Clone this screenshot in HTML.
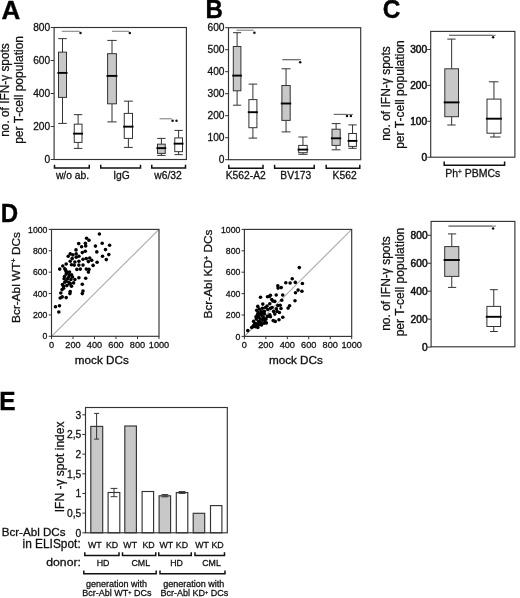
<!DOCTYPE html>
<html lang="en"><head><meta charset="utf-8"><title>Figure</title>
<style>
html,body{margin:0;padding:0;background:#fff;}
svg{display:block;font-family:'Liberation Sans', sans-serif;}
</style></head>
<body>
<svg width="520" height="598" viewBox="0 0 520 598" style="font-family:'Liberation Sans', sans-serif">
<rect x="0" y="0" width="520" height="598" fill="#fff"/>
<text x="1.60" y="18.70" font-size="26" text-anchor="start" font-weight="bold" fill="#000" stroke="#000" stroke-width="0.35">A</text>
<text x="205.40" y="18.00" font-size="26" text-anchor="start" font-weight="bold" fill="#000" stroke="#000" stroke-width="0.35" textLength="17.4" lengthAdjust="spacingAndGlyphs">B</text>
<text x="382.70" y="18.20" font-size="26" text-anchor="start" font-weight="bold" fill="#000" stroke="#000" stroke-width="0.35" textLength="17.6" lengthAdjust="spacingAndGlyphs">C</text>
<text x="0.80" y="221.60" font-size="25.4" text-anchor="start" font-weight="bold" fill="#000" stroke="#000" stroke-width="0.35" textLength="17.4" lengthAdjust="spacingAndGlyphs">D</text>
<text x="-0.70" y="409.70" font-size="26" text-anchor="start" font-weight="bold" fill="#000" stroke="#000" stroke-width="0.35" textLength="16.3" lengthAdjust="spacingAndGlyphs">E</text>
<rect x="54.10" y="27.50" width="132.30" height="132.00" fill="none" stroke="#333" stroke-width="1.15"/>
<line x1="50.70" y1="159.50" x2="54.10" y2="159.50" stroke="#333" stroke-width="1" />
<text x="50.20" y="163.17" font-size="10.2" text-anchor="end" font-weight="normal" fill="#111" stroke="#111" stroke-width="0.28">0</text>
<line x1="50.70" y1="126.50" x2="54.10" y2="126.50" stroke="#333" stroke-width="1" />
<text x="50.20" y="130.17" font-size="10.2" text-anchor="end" font-weight="normal" fill="#111" stroke="#111" stroke-width="0.28">200</text>
<line x1="50.70" y1="93.50" x2="54.10" y2="93.50" stroke="#333" stroke-width="1" />
<text x="50.20" y="97.17" font-size="10.2" text-anchor="end" font-weight="normal" fill="#111" stroke="#111" stroke-width="0.28">400</text>
<line x1="50.70" y1="60.50" x2="54.10" y2="60.50" stroke="#333" stroke-width="1" />
<text x="50.20" y="64.17" font-size="10.2" text-anchor="end" font-weight="normal" fill="#111" stroke="#111" stroke-width="0.28">600</text>
<line x1="50.70" y1="27.50" x2="54.10" y2="27.50" stroke="#333" stroke-width="1" />
<text x="50.20" y="31.17" font-size="10.2" text-anchor="end" font-weight="normal" fill="#111" stroke="#111" stroke-width="0.28">800</text>
<line x1="62.50" y1="38.65" x2="62.50" y2="52.15" stroke="#333" stroke-width="1" />
<line x1="62.50" y1="97.40" x2="62.50" y2="123.40" stroke="#333" stroke-width="1" />
<line x1="58.20" y1="38.65" x2="66.80" y2="38.65" stroke="#333" stroke-width="1" />
<line x1="58.20" y1="123.40" x2="66.80" y2="123.40" stroke="#333" stroke-width="1" />
<rect x="58.50" y="52.15" width="8.00" height="45.25" fill="#c8c8c8" stroke="#333" stroke-width="1"/>
<line x1="57.40" y1="72.90" x2="67.50" y2="72.90" stroke="#000" stroke-width="1.9" />
<line x1="78.12" y1="114.65" x2="78.12" y2="124.15" stroke="#333" stroke-width="1" />
<line x1="78.12" y1="142.40" x2="78.12" y2="148.40" stroke="#333" stroke-width="1" />
<line x1="73.95" y1="114.65" x2="82.30" y2="114.65" stroke="#333" stroke-width="1" />
<line x1="73.95" y1="148.40" x2="82.30" y2="148.40" stroke="#333" stroke-width="1" />
<rect x="74.25" y="124.15" width="7.75" height="18.25" fill="#fff" stroke="#333" stroke-width="1"/>
<line x1="73.15" y1="133.65" x2="83.00" y2="133.65" stroke="#000" stroke-width="1.9" />
<line x1="112.00" y1="40.40" x2="112.00" y2="53.65" stroke="#333" stroke-width="1" />
<line x1="112.00" y1="103.80" x2="112.00" y2="121.90" stroke="#333" stroke-width="1" />
<line x1="107.30" y1="40.40" x2="116.70" y2="40.40" stroke="#333" stroke-width="1" />
<line x1="107.30" y1="121.90" x2="116.70" y2="121.90" stroke="#333" stroke-width="1" />
<rect x="107.60" y="53.65" width="8.80" height="50.15" fill="#c8c8c8" stroke="#333" stroke-width="1"/>
<line x1="106.50" y1="75.90" x2="117.40" y2="75.90" stroke="#000" stroke-width="1.9" />
<line x1="128.38" y1="101.15" x2="128.38" y2="113.40" stroke="#333" stroke-width="1" />
<line x1="128.38" y1="138.40" x2="128.38" y2="147.40" stroke="#333" stroke-width="1" />
<line x1="123.95" y1="101.15" x2="132.80" y2="101.15" stroke="#333" stroke-width="1" />
<line x1="123.95" y1="147.40" x2="132.80" y2="147.40" stroke="#333" stroke-width="1" />
<rect x="124.25" y="113.40" width="8.25" height="25.00" fill="#fff" stroke="#333" stroke-width="1"/>
<line x1="123.15" y1="126.65" x2="133.50" y2="126.65" stroke="#000" stroke-width="1.9" />
<line x1="161.38" y1="138.40" x2="161.38" y2="144.15" stroke="#333" stroke-width="1" />
<line x1="161.38" y1="153.40" x2="161.38" y2="155.40" stroke="#333" stroke-width="1" />
<line x1="157.20" y1="138.40" x2="165.55" y2="138.40" stroke="#333" stroke-width="1" />
<line x1="157.20" y1="155.40" x2="165.55" y2="155.40" stroke="#333" stroke-width="1" />
<rect x="157.50" y="144.15" width="7.75" height="9.25" fill="#c8c8c8" stroke="#333" stroke-width="1"/>
<line x1="156.40" y1="148.15" x2="166.25" y2="148.15" stroke="#000" stroke-width="1.9" />
<line x1="178.62" y1="130.40" x2="178.62" y2="137.90" stroke="#333" stroke-width="1" />
<line x1="178.62" y1="151.65" x2="178.62" y2="154.65" stroke="#333" stroke-width="1" />
<line x1="174.45" y1="130.40" x2="182.80" y2="130.40" stroke="#333" stroke-width="1" />
<line x1="174.45" y1="154.65" x2="182.80" y2="154.65" stroke="#333" stroke-width="1" />
<rect x="174.75" y="137.90" width="7.75" height="13.75" fill="#fff" stroke="#333" stroke-width="1"/>
<line x1="173.65" y1="143.65" x2="183.50" y2="143.65" stroke="#000" stroke-width="1.9" />
<line x1="61.75" y1="31.25" x2="79.70" y2="31.25" stroke="#666" stroke-width="0.9" />
<circle cx="80.50" cy="33.00" r="1.25" fill="#111"/>
<line x1="112.00" y1="31.25" x2="129.00" y2="31.25" stroke="#666" stroke-width="0.9" />
<circle cx="129.80" cy="33.00" r="1.25" fill="#111"/>
<line x1="159.60" y1="118.80" x2="171.80" y2="118.80" stroke="#666" stroke-width="0.9" />
<circle cx="172.60" cy="120.80" r="1.25" fill="#111"/>
<circle cx="176.50" cy="120.80" r="1.25" fill="#111"/>
<path d="M54.50 164.80V168.00H89.25V164.80" fill="none" stroke="#111" stroke-width="1.5"/>
<path d="M100.75 164.80V168.00H140.50V164.80" fill="none" stroke="#111" stroke-width="1.5"/>
<path d="M151.75 164.80V168.00H185.50V164.80" fill="none" stroke="#111" stroke-width="1.5"/>
<text x="72.50" y="178.80" font-size="10.3" text-anchor="middle" font-weight="normal" fill="#111" stroke="#111" stroke-width="0.28">w/o ab.</text>
<text x="121.50" y="178.80" font-size="10.3" text-anchor="middle" font-weight="normal" fill="#111" stroke="#111" stroke-width="0.28">IgG</text>
<text x="168.00" y="178.80" font-size="10.3" text-anchor="middle" font-weight="normal" fill="#111" stroke="#111" stroke-width="0.28">w6/32</text>
<text x="9.00" y="90.00" font-size="11.85" text-anchor="middle" font-weight="normal" fill="#111" transform="rotate(-90 9.00 90.00)" stroke="#111" stroke-width="0.28">no. of IFN-γ spots</text>
<text x="23.20" y="89.90" font-size="12.0" text-anchor="middle" font-weight="normal" fill="#111" transform="rotate(-90 23.20 89.90)" stroke="#111" stroke-width="0.28">per T-cell population</text>
<rect x="228.50" y="27.70" width="132.20" height="132.00" fill="none" stroke="#333" stroke-width="1.15"/>
<line x1="225.10" y1="159.70" x2="228.50" y2="159.70" stroke="#333" stroke-width="1" />
<text x="224.50" y="163.37" font-size="10.2" text-anchor="end" font-weight="normal" fill="#111" stroke="#111" stroke-width="0.28">0</text>
<line x1="225.10" y1="137.70" x2="228.50" y2="137.70" stroke="#333" stroke-width="1" />
<text x="224.50" y="141.37" font-size="10.2" text-anchor="end" font-weight="normal" fill="#111" stroke="#111" stroke-width="0.28">100</text>
<line x1="225.10" y1="115.70" x2="228.50" y2="115.70" stroke="#333" stroke-width="1" />
<text x="224.50" y="119.37" font-size="10.2" text-anchor="end" font-weight="normal" fill="#111" stroke="#111" stroke-width="0.28">200</text>
<line x1="225.10" y1="93.70" x2="228.50" y2="93.70" stroke="#333" stroke-width="1" />
<text x="224.50" y="97.37" font-size="10.2" text-anchor="end" font-weight="normal" fill="#111" stroke="#111" stroke-width="0.28">300</text>
<line x1="225.10" y1="71.70" x2="228.50" y2="71.70" stroke="#333" stroke-width="1" />
<text x="224.50" y="75.37" font-size="10.2" text-anchor="end" font-weight="normal" fill="#111" stroke="#111" stroke-width="0.28">400</text>
<line x1="225.10" y1="49.70" x2="228.50" y2="49.70" stroke="#333" stroke-width="1" />
<text x="224.50" y="53.37" font-size="10.2" text-anchor="end" font-weight="normal" fill="#111" stroke="#111" stroke-width="0.28">500</text>
<line x1="225.10" y1="27.70" x2="228.50" y2="27.70" stroke="#333" stroke-width="1" />
<text x="224.50" y="31.37" font-size="10.2" text-anchor="end" font-weight="normal" fill="#111" stroke="#111" stroke-width="0.28">600</text>
<line x1="237.10" y1="32.70" x2="237.10" y2="46.50" stroke="#333" stroke-width="1" />
<line x1="237.10" y1="90.80" x2="237.10" y2="105.20" stroke="#333" stroke-width="1" />
<line x1="233.00" y1="32.70" x2="241.20" y2="32.70" stroke="#333" stroke-width="1" />
<line x1="233.00" y1="105.20" x2="241.20" y2="105.20" stroke="#333" stroke-width="1" />
<rect x="233.30" y="46.50" width="7.60" height="44.30" fill="#c8c8c8" stroke="#333" stroke-width="1"/>
<line x1="232.20" y1="75.60" x2="241.90" y2="75.60" stroke="#000" stroke-width="1.9" />
<line x1="252.90" y1="84.10" x2="252.90" y2="99.60" stroke="#333" stroke-width="1" />
<line x1="252.90" y1="127.70" x2="252.90" y2="138.10" stroke="#333" stroke-width="1" />
<line x1="248.60" y1="84.10" x2="257.20" y2="84.10" stroke="#333" stroke-width="1" />
<line x1="248.60" y1="138.10" x2="257.20" y2="138.10" stroke="#333" stroke-width="1" />
<rect x="248.90" y="99.60" width="8.00" height="28.10" fill="#fff" stroke="#333" stroke-width="1"/>
<line x1="247.80" y1="112.20" x2="257.90" y2="112.20" stroke="#000" stroke-width="1.9" />
<line x1="286.05" y1="68.80" x2="286.05" y2="85.50" stroke="#333" stroke-width="1" />
<line x1="286.05" y1="120.40" x2="286.05" y2="131.90" stroke="#333" stroke-width="1" />
<line x1="281.60" y1="68.80" x2="290.50" y2="68.80" stroke="#333" stroke-width="1" />
<line x1="281.60" y1="131.90" x2="290.50" y2="131.90" stroke="#333" stroke-width="1" />
<rect x="281.90" y="85.50" width="8.30" height="34.90" fill="#c8c8c8" stroke="#333" stroke-width="1"/>
<line x1="280.80" y1="103.50" x2="291.20" y2="103.50" stroke="#000" stroke-width="1.9" />
<line x1="302.95" y1="137.00" x2="302.95" y2="145.40" stroke="#333" stroke-width="1" />
<line x1="302.95" y1="152.70" x2="302.95" y2="154.30" stroke="#333" stroke-width="1" />
<line x1="298.40" y1="137.00" x2="307.50" y2="137.00" stroke="#333" stroke-width="1" />
<line x1="298.40" y1="154.30" x2="307.50" y2="154.30" stroke="#333" stroke-width="1" />
<rect x="298.70" y="145.40" width="8.50" height="7.30" fill="#fff" stroke="#333" stroke-width="1"/>
<line x1="297.60" y1="149.60" x2="308.20" y2="149.60" stroke="#000" stroke-width="1.9" />
<line x1="336.10" y1="123.60" x2="336.10" y2="129.20" stroke="#333" stroke-width="1" />
<line x1="336.10" y1="145.40" x2="336.10" y2="149.80" stroke="#333" stroke-width="1" />
<line x1="331.70" y1="123.60" x2="340.50" y2="123.60" stroke="#333" stroke-width="1" />
<line x1="331.70" y1="149.80" x2="340.50" y2="149.80" stroke="#333" stroke-width="1" />
<rect x="332.00" y="129.20" width="8.20" height="16.20" fill="#c8c8c8" stroke="#333" stroke-width="1"/>
<line x1="330.90" y1="138.30" x2="341.20" y2="138.30" stroke="#000" stroke-width="1.9" />
<line x1="352.55" y1="124.90" x2="352.55" y2="133.50" stroke="#333" stroke-width="1" />
<line x1="352.55" y1="146.40" x2="352.55" y2="148.30" stroke="#333" stroke-width="1" />
<line x1="348.40" y1="124.90" x2="356.70" y2="124.90" stroke="#333" stroke-width="1" />
<line x1="348.40" y1="148.30" x2="356.70" y2="148.30" stroke="#333" stroke-width="1" />
<rect x="348.70" y="133.50" width="7.70" height="12.90" fill="#fff" stroke="#333" stroke-width="1"/>
<line x1="347.60" y1="140.90" x2="357.40" y2="140.90" stroke="#000" stroke-width="1.9" />
<line x1="236.50" y1="30.20" x2="253.60" y2="30.20" stroke="#666" stroke-width="0.9" />
<circle cx="254.40" cy="32.80" r="1.25" fill="#111"/>
<line x1="282.20" y1="59.70" x2="301.00" y2="59.70" stroke="#666" stroke-width="0.9" />
<line x1="282.70" y1="59.70" x2="299.40" y2="59.70" stroke="#666" stroke-width="0.9" />
<circle cx="300.20" cy="62.20" r="1.25" fill="#111"/>
<line x1="333.60" y1="114.40" x2="353.00" y2="114.40" stroke="#666" stroke-width="0.9" />
<line x1="334.00" y1="114.40" x2="346.20" y2="114.40" stroke="#666" stroke-width="0.9" />
<circle cx="347.00" cy="115.90" r="1.25" fill="#111"/>
<circle cx="350.90" cy="115.90" r="1.25" fill="#111"/>
<path d="M228.80 164.80V168.20H263.00V164.80" fill="none" stroke="#111" stroke-width="1.5"/>
<path d="M274.60 164.80V168.20H314.20V164.80" fill="none" stroke="#111" stroke-width="1.5"/>
<path d="M326.20 164.80V168.20H359.80V164.80" fill="none" stroke="#111" stroke-width="1.5"/>
<text x="245.80" y="179.20" font-size="10.3" text-anchor="middle" font-weight="normal" fill="#111" stroke="#111" stroke-width="0.28">K562-A2</text>
<text x="295.80" y="179.20" font-size="10.3" text-anchor="middle" font-weight="normal" fill="#111" stroke="#111" stroke-width="0.28">BV173</text>
<text x="344.60" y="179.20" font-size="10.3" text-anchor="middle" font-weight="normal" fill="#111" stroke="#111" stroke-width="0.28">K562</text>
<rect x="430.70" y="31.40" width="84.20" height="125.80" fill="none" stroke="#333" stroke-width="1.15"/>
<line x1="427.30" y1="157.20" x2="430.70" y2="157.20" stroke="#333" stroke-width="1" />
<text x="427.20" y="160.87" font-size="10.2" text-anchor="end" font-weight="normal" fill="#111" stroke="#111" stroke-width="0.5">0</text>
<line x1="427.30" y1="121.30" x2="430.70" y2="121.30" stroke="#333" stroke-width="1" />
<text x="427.20" y="124.97" font-size="10.2" text-anchor="end" font-weight="normal" fill="#111" stroke="#111" stroke-width="0.5">100</text>
<line x1="427.30" y1="85.40" x2="430.70" y2="85.40" stroke="#333" stroke-width="1" />
<text x="427.20" y="89.07" font-size="10.2" text-anchor="end" font-weight="normal" fill="#111" stroke="#111" stroke-width="0.5">200</text>
<line x1="427.30" y1="49.50" x2="430.70" y2="49.50" stroke="#333" stroke-width="1" />
<text x="427.20" y="53.17" font-size="10.2" text-anchor="end" font-weight="normal" fill="#111" stroke="#111" stroke-width="0.5">300</text>
<line x1="451.65" y1="39.10" x2="451.65" y2="68.80" stroke="#333" stroke-width="1" />
<line x1="451.65" y1="116.70" x2="451.65" y2="125.00" stroke="#333" stroke-width="1" />
<line x1="447.30" y1="39.10" x2="455.60" y2="39.10" stroke="#333" stroke-width="1" />
<line x1="447.30" y1="125.00" x2="455.60" y2="125.00" stroke="#333" stroke-width="1" />
<rect x="444.80" y="68.80" width="13.70" height="47.90" fill="#c8c8c8" stroke="#333" stroke-width="1"/>
<line x1="443.70" y1="102.40" x2="459.50" y2="102.40" stroke="#000" stroke-width="1.9" />
<line x1="493.95" y1="81.80" x2="493.95" y2="99.10" stroke="#333" stroke-width="1" />
<line x1="493.95" y1="133.20" x2="493.95" y2="137.00" stroke="#333" stroke-width="1" />
<line x1="488.90" y1="81.80" x2="498.40" y2="81.80" stroke="#333" stroke-width="1" />
<line x1="490.00" y1="137.00" x2="500.60" y2="137.00" stroke="#333" stroke-width="1" />
<rect x="487.00" y="99.10" width="13.90" height="34.10" fill="#fff" stroke="#333" stroke-width="1"/>
<line x1="485.90" y1="118.70" x2="501.90" y2="118.70" stroke="#000" stroke-width="1.9" />
<line x1="449.00" y1="35.30" x2="495.80" y2="35.30" stroke="#666" stroke-width="0.9" />
<line x1="449.00" y1="35.30" x2="492.30" y2="35.30" stroke="#666" stroke-width="0.9" />
<circle cx="493.10" cy="37.30" r="1.25" fill="#111"/>
<path d="M444.20 161.60V165.20H504.60V161.60" fill="none" stroke="#111" stroke-width="1.5"/>
<text x="472.80" y="177.40" font-size="10.5" text-anchor="middle" font-weight="normal" fill="#111" stroke="#111" stroke-width="0.28">Ph<tspan font-size="62%" dy="-0.5em">+</tspan><tspan dy="0.31em"> </tspan>PBMCs</text>
<text x="390.40" y="93.50" font-size="12" text-anchor="middle" font-weight="normal" fill="#111" transform="rotate(-90 390.40 93.50)" stroke="#111" stroke-width="0.28">no. of IFN-γ spots</text>
<text x="404.40" y="94.50" font-size="12.1" text-anchor="middle" font-weight="normal" fill="#111" transform="rotate(-90 404.40 94.50)" stroke="#111" stroke-width="0.28">per T-cell population</text>
<rect x="431.10" y="221.40" width="83.80" height="125.40" fill="none" stroke="#333" stroke-width="1.15"/>
<line x1="427.70" y1="347.10" x2="431.10" y2="347.10" stroke="#333" stroke-width="1" />
<text x="427.60" y="350.77" font-size="10.2" text-anchor="end" font-weight="normal" fill="#111" stroke="#111" stroke-width="0.5">0</text>
<line x1="427.70" y1="319.15" x2="431.10" y2="319.15" stroke="#333" stroke-width="1" />
<text x="427.60" y="322.82" font-size="10.2" text-anchor="end" font-weight="normal" fill="#111" stroke="#111" stroke-width="0.5">200</text>
<line x1="427.70" y1="291.20" x2="431.10" y2="291.20" stroke="#333" stroke-width="1" />
<text x="427.60" y="294.87" font-size="10.2" text-anchor="end" font-weight="normal" fill="#111" stroke="#111" stroke-width="0.5">400</text>
<line x1="427.70" y1="263.25" x2="431.10" y2="263.25" stroke="#333" stroke-width="1" />
<text x="427.60" y="266.92" font-size="10.2" text-anchor="end" font-weight="normal" fill="#111" stroke="#111" stroke-width="0.5">600</text>
<line x1="427.70" y1="235.30" x2="431.10" y2="235.30" stroke="#333" stroke-width="1" />
<text x="427.60" y="238.97" font-size="10.2" text-anchor="end" font-weight="normal" fill="#111" stroke="#111" stroke-width="0.5">800</text>
<line x1="451.75" y1="233.90" x2="451.75" y2="246.60" stroke="#333" stroke-width="1" />
<line x1="451.75" y1="276.40" x2="451.75" y2="287.40" stroke="#333" stroke-width="1" />
<line x1="448.00" y1="233.90" x2="456.20" y2="233.90" stroke="#333" stroke-width="1" />
<line x1="448.00" y1="287.40" x2="456.20" y2="287.40" stroke="#333" stroke-width="1" />
<rect x="444.70" y="246.60" width="14.10" height="29.80" fill="#c8c8c8" stroke="#333" stroke-width="1"/>
<line x1="443.60" y1="260.00" x2="459.80" y2="260.00" stroke="#000" stroke-width="1.9" />
<line x1="493.75" y1="289.70" x2="493.75" y2="306.40" stroke="#333" stroke-width="1" />
<line x1="493.75" y1="326.50" x2="493.75" y2="331.50" stroke="#333" stroke-width="1" />
<line x1="490.00" y1="289.70" x2="497.80" y2="289.70" stroke="#333" stroke-width="1" />
<line x1="490.00" y1="331.50" x2="497.80" y2="331.50" stroke="#333" stroke-width="1" />
<rect x="486.90" y="306.40" width="13.70" height="20.10" fill="#fff" stroke="#333" stroke-width="1"/>
<line x1="485.80" y1="316.80" x2="501.60" y2="316.80" stroke="#000" stroke-width="1.9" />
<line x1="448.40" y1="226.10" x2="496.00" y2="226.10" stroke="#666" stroke-width="0.9" />
<line x1="448.60" y1="226.10" x2="492.30" y2="226.10" stroke="#666" stroke-width="0.9" />
<circle cx="493.10" cy="228.40" r="1.25" fill="#111"/>
<text x="390.40" y="283.50" font-size="12" text-anchor="middle" font-weight="normal" fill="#111" transform="rotate(-90 390.40 283.50)" stroke="#111" stroke-width="0.28">no. of IFN-γ spots</text>
<text x="404.40" y="282.00" font-size="12.1" text-anchor="middle" font-weight="normal" fill="#111" transform="rotate(-90 404.40 282.00)" stroke="#111" stroke-width="0.28">per T-cell population</text>
<line x1="51.50" y1="336.30" x2="159.00" y2="229.40" stroke="#aaa" stroke-width="1.1" />
<rect x="51.50" y="229.40" width="107.50" height="106.90" fill="none" stroke="#333" stroke-width="1.15"/>
<line x1="48.70" y1="336.30" x2="51.50" y2="336.30" stroke="#333" stroke-width="1" />
<text x="47.40" y="339.43" font-size="8.7" text-anchor="end" font-weight="normal" fill="#111" stroke="#111" stroke-width="0.28">0</text>
<line x1="51.50" y1="336.30" x2="51.50" y2="339.10" stroke="#333" stroke-width="1" />
<text x="51.50" y="348.30" font-size="9.2" text-anchor="middle" font-weight="normal" fill="#111" stroke="#111" stroke-width="0.28">0</text>
<line x1="48.70" y1="314.92" x2="51.50" y2="314.92" stroke="#333" stroke-width="1" />
<text x="47.40" y="318.05" font-size="8.7" text-anchor="end" font-weight="normal" fill="#111" stroke="#111" stroke-width="0.28">200</text>
<line x1="73.00" y1="336.30" x2="73.00" y2="339.10" stroke="#333" stroke-width="1" />
<text x="73.00" y="348.30" font-size="9.2" text-anchor="middle" font-weight="normal" fill="#111" stroke="#111" stroke-width="0.28">200</text>
<line x1="48.70" y1="293.54" x2="51.50" y2="293.54" stroke="#333" stroke-width="1" />
<text x="47.40" y="296.67" font-size="8.7" text-anchor="end" font-weight="normal" fill="#111" stroke="#111" stroke-width="0.28">400</text>
<line x1="94.50" y1="336.30" x2="94.50" y2="339.10" stroke="#333" stroke-width="1" />
<text x="94.50" y="348.30" font-size="9.2" text-anchor="middle" font-weight="normal" fill="#111" stroke="#111" stroke-width="0.28">400</text>
<line x1="48.70" y1="272.16" x2="51.50" y2="272.16" stroke="#333" stroke-width="1" />
<text x="47.40" y="275.29" font-size="8.7" text-anchor="end" font-weight="normal" fill="#111" stroke="#111" stroke-width="0.28">600</text>
<line x1="116.00" y1="336.30" x2="116.00" y2="339.10" stroke="#333" stroke-width="1" />
<text x="116.00" y="348.30" font-size="9.2" text-anchor="middle" font-weight="normal" fill="#111" stroke="#111" stroke-width="0.28">600</text>
<line x1="48.70" y1="250.78" x2="51.50" y2="250.78" stroke="#333" stroke-width="1" />
<text x="47.40" y="253.91" font-size="8.7" text-anchor="end" font-weight="normal" fill="#111" stroke="#111" stroke-width="0.28">800</text>
<line x1="137.50" y1="336.30" x2="137.50" y2="339.10" stroke="#333" stroke-width="1" />
<text x="137.50" y="348.30" font-size="9.2" text-anchor="middle" font-weight="normal" fill="#111" stroke="#111" stroke-width="0.28">800</text>
<line x1="48.70" y1="229.40" x2="51.50" y2="229.40" stroke="#333" stroke-width="1" />
<text x="47.40" y="232.53" font-size="8.7" text-anchor="end" font-weight="normal" fill="#111" stroke="#111" stroke-width="0.28">1000</text>
<line x1="159.00" y1="336.30" x2="159.00" y2="339.10" stroke="#333" stroke-width="1" />
<text x="159.00" y="348.30" font-size="9.2" text-anchor="middle" font-weight="normal" fill="#111" stroke="#111" stroke-width="0.28">1000</text>
<circle cx="64.5" cy="276.5" r="1.8" fill="#000"/>
<circle cx="66.0" cy="281.0" r="1.8" fill="#000"/>
<circle cx="69.5" cy="284.0" r="1.8" fill="#000"/>
<circle cx="72.5" cy="277.0" r="1.8" fill="#000"/>
<circle cx="62.5" cy="284.5" r="1.8" fill="#000"/>
<circle cx="67.5" cy="272.5" r="1.8" fill="#000"/>
<circle cx="65.5" cy="270.0" r="1.8" fill="#000"/>
<circle cx="99.4" cy="234.0" r="1.8" fill="#000"/>
<circle cx="86.6" cy="238.2" r="1.8" fill="#000"/>
<circle cx="89.0" cy="240.2" r="1.8" fill="#000"/>
<circle cx="78.7" cy="243.6" r="1.8" fill="#000"/>
<circle cx="85.4" cy="243.2" r="1.8" fill="#000"/>
<circle cx="85.7" cy="245.9" r="1.8" fill="#000"/>
<circle cx="81.6" cy="246.8" r="1.8" fill="#000"/>
<circle cx="95.4" cy="246.1" r="1.8" fill="#000"/>
<circle cx="102.2" cy="243.2" r="1.8" fill="#000"/>
<circle cx="109.6" cy="245.2" r="1.8" fill="#000"/>
<circle cx="105.5" cy="249.6" r="1.8" fill="#000"/>
<circle cx="96.8" cy="251.9" r="1.8" fill="#000"/>
<circle cx="108.8" cy="254.6" r="1.8" fill="#000"/>
<circle cx="102.5" cy="256.2" r="1.8" fill="#000"/>
<circle cx="106.3" cy="259.6" r="1.8" fill="#000"/>
<circle cx="76.0" cy="249.9" r="1.8" fill="#000"/>
<circle cx="85.3" cy="251.2" r="1.8" fill="#000"/>
<circle cx="82.3" cy="252.6" r="1.8" fill="#000"/>
<circle cx="70.2" cy="253.9" r="1.8" fill="#000"/>
<circle cx="68.2" cy="256.2" r="1.8" fill="#000"/>
<circle cx="72.9" cy="254.9" r="1.8" fill="#000"/>
<circle cx="76.2" cy="253.9" r="1.8" fill="#000"/>
<circle cx="78.9" cy="256.2" r="1.8" fill="#000"/>
<circle cx="76.2" cy="257.3" r="1.8" fill="#000"/>
<circle cx="72.2" cy="258.6" r="1.8" fill="#000"/>
<circle cx="83.0" cy="259.3" r="1.8" fill="#000"/>
<circle cx="86.3" cy="258.6" r="1.8" fill="#000"/>
<circle cx="89.7" cy="258.0" r="1.8" fill="#000"/>
<circle cx="91.7" cy="260.3" r="1.8" fill="#000"/>
<circle cx="88.4" cy="261.6" r="1.8" fill="#000"/>
<circle cx="97.1" cy="262.3" r="1.8" fill="#000"/>
<circle cx="93.1" cy="265.4" r="1.8" fill="#000"/>
<circle cx="78.9" cy="261.3" r="1.8" fill="#000"/>
<circle cx="74.9" cy="262.0" r="1.8" fill="#000"/>
<circle cx="70.2" cy="261.3" r="1.8" fill="#000"/>
<circle cx="66.2" cy="264.0" r="1.8" fill="#000"/>
<circle cx="62.8" cy="266.0" r="1.8" fill="#000"/>
<circle cx="59.7" cy="269.1" r="1.8" fill="#000"/>
<circle cx="71.5" cy="264.7" r="1.8" fill="#000"/>
<circle cx="74.2" cy="265.1" r="1.8" fill="#000"/>
<circle cx="78.9" cy="265.1" r="1.8" fill="#000"/>
<circle cx="83.0" cy="265.1" r="1.8" fill="#000"/>
<circle cx="64.8" cy="268.7" r="1.8" fill="#000"/>
<circle cx="76.9" cy="269.4" r="1.8" fill="#000"/>
<circle cx="80.3" cy="269.1" r="1.8" fill="#000"/>
<circle cx="86.3" cy="269.1" r="1.8" fill="#000"/>
<circle cx="89.0" cy="269.4" r="1.8" fill="#000"/>
<circle cx="88.4" cy="272.1" r="1.8" fill="#000"/>
<circle cx="66.2" cy="271.4" r="1.8" fill="#000"/>
<circle cx="69.5" cy="272.1" r="1.8" fill="#000"/>
<circle cx="66.2" cy="274.1" r="1.8" fill="#000"/>
<circle cx="69.5" cy="275.0" r="1.8" fill="#000"/>
<circle cx="64.1" cy="278.8" r="1.8" fill="#000"/>
<circle cx="67.5" cy="278.8" r="1.8" fill="#000"/>
<circle cx="70.9" cy="279.5" r="1.8" fill="#000"/>
<circle cx="74.9" cy="279.5" r="1.8" fill="#000"/>
<circle cx="78.9" cy="277.8" r="1.8" fill="#000"/>
<circle cx="85.7" cy="278.2" r="1.8" fill="#000"/>
<circle cx="64.8" cy="282.2" r="1.8" fill="#000"/>
<circle cx="68.8" cy="282.2" r="1.8" fill="#000"/>
<circle cx="73.6" cy="282.9" r="1.8" fill="#000"/>
<circle cx="82.3" cy="284.2" r="1.8" fill="#000"/>
<circle cx="63.5" cy="286.2" r="1.8" fill="#000"/>
<circle cx="66.8" cy="285.6" r="1.8" fill="#000"/>
<circle cx="71.5" cy="286.2" r="1.8" fill="#000"/>
<circle cx="62.1" cy="289.6" r="1.8" fill="#000"/>
<circle cx="60.8" cy="293.0" r="1.8" fill="#000"/>
<circle cx="70.2" cy="291.6" r="1.8" fill="#000"/>
<circle cx="83.0" cy="291.0" r="1.8" fill="#000"/>
<circle cx="82.3" cy="293.6" r="1.8" fill="#000"/>
<circle cx="55.5" cy="306.7" r="1.8" fill="#000"/>
<circle cx="59.5" cy="305.7" r="1.8" fill="#000"/>
<circle cx="58.8" cy="312.0" r="1.8" fill="#000"/>
<circle cx="60.2" cy="298.0" r="1.8" fill="#000"/>
<circle cx="62.2" cy="296.9" r="1.8" fill="#000"/>
<circle cx="66.2" cy="297.6" r="1.8" fill="#000"/>
<circle cx="69.9" cy="293.6" r="1.8" fill="#000"/>
<circle cx="63.6" cy="288.2" r="1.8" fill="#000"/>
<circle cx="70.3" cy="283.5" r="1.8" fill="#000"/>
<circle cx="68.9" cy="276.7" r="1.8" fill="#000"/>
<circle cx="71.6" cy="274.7" r="1.8" fill="#000"/>
<text x="20.00" y="277.50" font-size="11.8" text-anchor="middle" font-weight="normal" fill="#111" transform="rotate(-90 20.00 277.50)" stroke="#111" stroke-width="0.28">Bcr-Abl WT<tspan font-size="62%" dy="-0.5em">+</tspan><tspan dy="0.31em"> </tspan>DCs</text>
<text x="74.80" y="364.30" font-size="10.4" text-anchor="start" font-weight="normal" fill="#111" stroke="#111" stroke-width="0.3" textLength="54" lengthAdjust="spacingAndGlyphs">mock DCs</text>
<line x1="244.40" y1="336.40" x2="351.70" y2="229.40" stroke="#aaa" stroke-width="1.1" />
<rect x="244.40" y="229.40" width="107.30" height="107.00" fill="none" stroke="#333" stroke-width="1.15"/>
<line x1="241.60" y1="336.40" x2="244.40" y2="336.40" stroke="#333" stroke-width="1" />
<text x="240.30" y="339.53" font-size="8.7" text-anchor="end" font-weight="normal" fill="#111" stroke="#111" stroke-width="0.28">0</text>
<line x1="244.40" y1="336.40" x2="244.40" y2="339.20" stroke="#333" stroke-width="1" />
<text x="244.40" y="348.40" font-size="9.2" text-anchor="middle" font-weight="normal" fill="#111" stroke="#111" stroke-width="0.28">0</text>
<line x1="241.60" y1="315.00" x2="244.40" y2="315.00" stroke="#333" stroke-width="1" />
<text x="240.30" y="318.13" font-size="8.7" text-anchor="end" font-weight="normal" fill="#111" stroke="#111" stroke-width="0.28">200</text>
<line x1="265.86" y1="336.40" x2="265.86" y2="339.20" stroke="#333" stroke-width="1" />
<text x="265.86" y="348.40" font-size="9.2" text-anchor="middle" font-weight="normal" fill="#111" stroke="#111" stroke-width="0.28">200</text>
<line x1="241.60" y1="293.60" x2="244.40" y2="293.60" stroke="#333" stroke-width="1" />
<text x="240.30" y="296.73" font-size="8.7" text-anchor="end" font-weight="normal" fill="#111" stroke="#111" stroke-width="0.28">400</text>
<line x1="287.32" y1="336.40" x2="287.32" y2="339.20" stroke="#333" stroke-width="1" />
<text x="287.32" y="348.40" font-size="9.2" text-anchor="middle" font-weight="normal" fill="#111" stroke="#111" stroke-width="0.28">400</text>
<line x1="241.60" y1="272.20" x2="244.40" y2="272.20" stroke="#333" stroke-width="1" />
<text x="240.30" y="275.33" font-size="8.7" text-anchor="end" font-weight="normal" fill="#111" stroke="#111" stroke-width="0.28">600</text>
<line x1="308.78" y1="336.40" x2="308.78" y2="339.20" stroke="#333" stroke-width="1" />
<text x="308.78" y="348.40" font-size="9.2" text-anchor="middle" font-weight="normal" fill="#111" stroke="#111" stroke-width="0.28">600</text>
<line x1="241.60" y1="250.80" x2="244.40" y2="250.80" stroke="#333" stroke-width="1" />
<text x="240.30" y="253.93" font-size="8.7" text-anchor="end" font-weight="normal" fill="#111" stroke="#111" stroke-width="0.28">800</text>
<line x1="330.24" y1="336.40" x2="330.24" y2="339.20" stroke="#333" stroke-width="1" />
<text x="330.24" y="348.40" font-size="9.2" text-anchor="middle" font-weight="normal" fill="#111" stroke="#111" stroke-width="0.28">800</text>
<line x1="241.60" y1="229.40" x2="244.40" y2="229.40" stroke="#333" stroke-width="1" />
<text x="240.30" y="232.53" font-size="8.7" text-anchor="end" font-weight="normal" fill="#111" stroke="#111" stroke-width="0.28">1000</text>
<line x1="351.70" y1="336.40" x2="351.70" y2="339.20" stroke="#333" stroke-width="1" />
<text x="351.70" y="348.40" font-size="9.2" text-anchor="middle" font-weight="normal" fill="#111" stroke="#111" stroke-width="0.28">1000</text>
<circle cx="299.3" cy="267.6" r="1.8" fill="#000"/>
<circle cx="292.2" cy="278.8" r="1.8" fill="#000"/>
<circle cx="285.8" cy="282.7" r="1.8" fill="#000"/>
<circle cx="290.1" cy="283.0" r="1.8" fill="#000"/>
<circle cx="295.3" cy="282.4" r="1.8" fill="#000"/>
<circle cx="302.4" cy="283.5" r="1.8" fill="#000"/>
<circle cx="277.8" cy="285.8" r="1.8" fill="#000"/>
<circle cx="281.2" cy="287.6" r="1.8" fill="#000"/>
<circle cx="278.1" cy="288.1" r="1.8" fill="#000"/>
<circle cx="298.1" cy="290.1" r="1.8" fill="#000"/>
<circle cx="301.9" cy="291.2" r="1.8" fill="#000"/>
<circle cx="295.5" cy="292.7" r="1.8" fill="#000"/>
<circle cx="270.4" cy="295.3" r="1.8" fill="#000"/>
<circle cx="276.2" cy="295.0" r="1.8" fill="#000"/>
<circle cx="282.7" cy="295.0" r="1.8" fill="#000"/>
<circle cx="295.0" cy="300.7" r="1.8" fill="#000"/>
<circle cx="289.6" cy="305.8" r="1.8" fill="#000"/>
<circle cx="288.1" cy="308.1" r="1.8" fill="#000"/>
<circle cx="247.8" cy="330.6" r="1.8" fill="#000"/>
<circle cx="251.7" cy="327.5" r="1.8" fill="#000"/>
<circle cx="253.6" cy="325.6" r="1.8" fill="#000"/>
<circle cx="253.6" cy="321.4" r="1.8" fill="#000"/>
<circle cx="255.5" cy="326.8" r="1.8" fill="#000"/>
<circle cx="257.8" cy="327.5" r="1.8" fill="#000"/>
<circle cx="256.3" cy="323.7" r="1.8" fill="#000"/>
<circle cx="259.0" cy="324.8" r="1.8" fill="#000"/>
<circle cx="256.3" cy="319.1" r="1.8" fill="#000"/>
<circle cx="258.6" cy="321.4" r="1.8" fill="#000"/>
<circle cx="261.3" cy="322.5" r="1.8" fill="#000"/>
<circle cx="264.0" cy="323.3" r="1.8" fill="#000"/>
<circle cx="266.3" cy="322.9" r="1.8" fill="#000"/>
<circle cx="256.7" cy="310.2" r="1.8" fill="#000"/>
<circle cx="257.8" cy="306.4" r="1.8" fill="#000"/>
<circle cx="257.5" cy="314.5" r="1.8" fill="#000"/>
<circle cx="258.6" cy="317.2" r="1.8" fill="#000"/>
<circle cx="260.5" cy="319.1" r="1.8" fill="#000"/>
<circle cx="262.8" cy="319.8" r="1.8" fill="#000"/>
<circle cx="264.8" cy="320.6" r="1.8" fill="#000"/>
<circle cx="260.2" cy="314.5" r="1.8" fill="#000"/>
<circle cx="262.1" cy="316.0" r="1.8" fill="#000"/>
<circle cx="261.3" cy="311.4" r="1.8" fill="#000"/>
<circle cx="262.5" cy="308.3" r="1.8" fill="#000"/>
<circle cx="262.8" cy="304.1" r="1.8" fill="#000"/>
<circle cx="264.4" cy="311.4" r="1.8" fill="#000"/>
<circle cx="265.5" cy="307.5" r="1.8" fill="#000"/>
<circle cx="267.1" cy="306.0" r="1.8" fill="#000"/>
<circle cx="269.8" cy="303.7" r="1.8" fill="#000"/>
<circle cx="267.8" cy="309.5" r="1.8" fill="#000"/>
<circle cx="270.5" cy="308.3" r="1.8" fill="#000"/>
<circle cx="272.1" cy="307.5" r="1.8" fill="#000"/>
<circle cx="267.5" cy="316.4" r="1.8" fill="#000"/>
<circle cx="269.8" cy="314.8" r="1.8" fill="#000"/>
<circle cx="270.5" cy="316.8" r="1.8" fill="#000"/>
<circle cx="273.6" cy="311.4" r="1.8" fill="#000"/>
<circle cx="274.8" cy="314.1" r="1.8" fill="#000"/>
<circle cx="277.1" cy="311.4" r="1.8" fill="#000"/>
<circle cx="279.4" cy="312.5" r="1.8" fill="#000"/>
<circle cx="273.2" cy="320.6" r="1.8" fill="#000"/>
<circle cx="275.2" cy="321.4" r="1.8" fill="#000"/>
<circle cx="279.0" cy="319.8" r="1.8" fill="#000"/>
<circle cx="282.8" cy="317.2" r="1.8" fill="#000"/>
<circle cx="277.8" cy="305.6" r="1.8" fill="#000"/>
<circle cx="280.2" cy="305.2" r="1.8" fill="#000"/>
<circle cx="272.8" cy="301.0" r="1.8" fill="#000"/>
<circle cx="274.8" cy="301.4" r="1.8" fill="#000"/>
<circle cx="271.7" cy="299.5" r="1.8" fill="#000"/>
<circle cx="281.7" cy="300.2" r="1.8" fill="#000"/>
<circle cx="260.5" cy="297.2" r="1.8" fill="#000"/>
<circle cx="267.5" cy="296.8" r="1.8" fill="#000"/>
<circle cx="269.4" cy="296.4" r="1.8" fill="#000"/>
<circle cx="254.8" cy="323.5" r="1.8" fill="#000"/>
<circle cx="257.2" cy="325.8" r="1.8" fill="#000"/>
<circle cx="258.2" cy="312.4" r="1.8" fill="#000"/>
<circle cx="259.3" cy="309.0" r="1.8" fill="#000"/>
<circle cx="256.0" cy="316.8" r="1.8" fill="#000"/>
<circle cx="262.0" cy="313.5" r="1.8" fill="#000"/>
<circle cx="263.8" cy="317.8" r="1.8" fill="#000"/>
<circle cx="259.5" cy="322.8" r="1.8" fill="#000"/>
<circle cx="261.5" cy="325.0" r="1.8" fill="#000"/>
<circle cx="252.8" cy="326.8" r="1.8" fill="#000"/>
<circle cx="266.0" cy="319.0" r="1.8" fill="#000"/>
<circle cx="264.3" cy="314.0" r="1.8" fill="#000"/>
<circle cx="276.3" cy="308.8" r="1.8" fill="#000"/>
<circle cx="281.0" cy="308.5" r="1.8" fill="#000"/>
<text x="212.40" y="274.00" font-size="11.8" text-anchor="middle" font-weight="normal" fill="#111" transform="rotate(-90 212.40 274.00)" stroke="#111" stroke-width="0.28">Bcr-Abl KD<tspan font-size="62%" dy="-0.5em">+</tspan><tspan dy="0.31em"> </tspan>DCs</text>
<text x="268.90" y="364.30" font-size="10.4" text-anchor="start" font-weight="normal" fill="#111" stroke="#111" stroke-width="0.3" textLength="54" lengthAdjust="spacingAndGlyphs">mock DCs</text>
<rect x="90.80" y="426.40" width="11.90" height="106.40" fill="#c8c8c8" stroke="#333" stroke-width="1.15"/>
<rect x="108.10" y="492.50" width="11.70" height="40.30" fill="#fff" stroke="#333" stroke-width="1.15"/>
<rect x="124.80" y="426.00" width="11.60" height="106.80" fill="#c8c8c8" stroke="#333" stroke-width="1.15"/>
<rect x="142.10" y="491.50" width="11.50" height="41.30" fill="#fff" stroke="#333" stroke-width="1.15"/>
<rect x="159.10" y="495.80" width="11.50" height="37.00" fill="#c8c8c8" stroke="#333" stroke-width="1.15"/>
<rect x="176.30" y="492.60" width="11.50" height="40.20" fill="#fff" stroke="#333" stroke-width="1.15"/>
<rect x="193.20" y="513.30" width="11.50" height="19.50" fill="#c8c8c8" stroke="#333" stroke-width="1.15"/>
<rect x="210.50" y="505.60" width="11.40" height="27.20" fill="#fff" stroke="#333" stroke-width="1.15"/>
<rect x="85.50" y="407.50" width="141.80" height="125.30" fill="none" stroke="#333" stroke-width="1.15"/>
<line x1="82.30" y1="532.80" x2="85.50" y2="532.80" stroke="#333" stroke-width="1" />
<text x="81.30" y="536.51" font-size="10.3" text-anchor="end" font-weight="normal" fill="#111" stroke="#111" stroke-width="0.28">0</text>
<line x1="82.30" y1="513.13" x2="85.50" y2="513.13" stroke="#333" stroke-width="1" />
<text x="81.30" y="516.84" font-size="10.3" text-anchor="end" font-weight="normal" fill="#111" stroke="#111" stroke-width="0.28">0,5</text>
<line x1="82.30" y1="493.47" x2="85.50" y2="493.47" stroke="#333" stroke-width="1" />
<text x="81.30" y="497.17" font-size="10.3" text-anchor="end" font-weight="normal" fill="#111" stroke="#111" stroke-width="0.28">1</text>
<line x1="82.30" y1="473.80" x2="85.50" y2="473.80" stroke="#333" stroke-width="1" />
<text x="81.30" y="477.51" font-size="10.3" text-anchor="end" font-weight="normal" fill="#111" stroke="#111" stroke-width="0.28">1,5</text>
<line x1="82.30" y1="454.13" x2="85.50" y2="454.13" stroke="#333" stroke-width="1" />
<text x="81.30" y="457.84" font-size="10.3" text-anchor="end" font-weight="normal" fill="#111" stroke="#111" stroke-width="0.28">2</text>
<line x1="82.30" y1="434.47" x2="85.50" y2="434.47" stroke="#333" stroke-width="1" />
<text x="81.30" y="438.17" font-size="10.3" text-anchor="end" font-weight="normal" fill="#111" stroke="#111" stroke-width="0.28">2,5</text>
<line x1="82.30" y1="414.80" x2="85.50" y2="414.80" stroke="#333" stroke-width="1" />
<text x="81.30" y="418.51" font-size="10.3" text-anchor="end" font-weight="normal" fill="#111" stroke="#111" stroke-width="0.28">3</text>
<line x1="96.60" y1="413.40" x2="96.60" y2="439.10" stroke="#333" stroke-width="1" />
<line x1="94.10" y1="413.40" x2="99.10" y2="413.40" stroke="#333" stroke-width="1" />
<line x1="94.10" y1="439.10" x2="99.10" y2="439.10" stroke="#333" stroke-width="1" />
<line x1="114.00" y1="488.40" x2="114.00" y2="496.70" stroke="#333" stroke-width="1" />
<line x1="110.60" y1="488.40" x2="117.40" y2="488.40" stroke="#333" stroke-width="1" />
<line x1="110.60" y1="496.70" x2="117.40" y2="496.70" stroke="#333" stroke-width="1" />
<line x1="164.90" y1="494.60" x2="164.90" y2="496.80" stroke="#333" stroke-width="1" />
<line x1="161.50" y1="494.60" x2="168.30" y2="494.60" stroke="#333" stroke-width="1" />
<line x1="161.50" y1="496.80" x2="168.30" y2="496.80" stroke="#333" stroke-width="1" />
<line x1="182.00" y1="491.60" x2="182.00" y2="493.40" stroke="#333" stroke-width="1" />
<line x1="178.60" y1="491.60" x2="185.40" y2="491.60" stroke="#333" stroke-width="1" />
<line x1="178.60" y1="493.40" x2="185.40" y2="493.40" stroke="#333" stroke-width="1" />
<text x="64.30" y="466.90" font-size="12.0" text-anchor="middle" font-weight="normal" fill="#111" transform="rotate(-90 64.30 466.90)" stroke="#111" stroke-width="0.28">IFN -γ spot index</text>
<text x="1.70" y="535.60" font-size="10.8" text-anchor="start" font-weight="normal" fill="#111" stroke="#111" stroke-width="0.28" textLength="63.8" lengthAdjust="spacingAndGlyphs">Bcr-Abl DCs</text>
<text x="80.70" y="547.80" font-size="11.9" text-anchor="end" font-weight="normal" fill="#111" stroke="#111" stroke-width="0.28">in ELISpot:</text>
<text x="46.30" y="565.90" font-size="11.5" text-anchor="start" font-weight="normal" fill="#111" stroke="#111" stroke-width="0.28" textLength="34.6" lengthAdjust="spacingAndGlyphs">donor:</text>
<text x="94.80" y="548.00" font-size="8.8" text-anchor="middle" font-weight="normal" fill="#111" stroke="#111" stroke-width="0.28">WT</text>
<text x="112.10" y="548.00" font-size="8.8" text-anchor="middle" font-weight="normal" fill="#111" stroke="#111" stroke-width="0.28">KD</text>
<text x="130.20" y="548.00" font-size="8.8" text-anchor="middle" font-weight="normal" fill="#111" stroke="#111" stroke-width="0.28">WT</text>
<text x="148.50" y="548.00" font-size="8.8" text-anchor="middle" font-weight="normal" fill="#111" stroke="#111" stroke-width="0.28">KD</text>
<text x="166.40" y="548.00" font-size="8.8" text-anchor="middle" font-weight="normal" fill="#111" stroke="#111" stroke-width="0.28">WT</text>
<text x="181.90" y="548.00" font-size="8.8" text-anchor="middle" font-weight="normal" fill="#111" stroke="#111" stroke-width="0.28">KD</text>
<text x="202.00" y="548.00" font-size="8.8" text-anchor="middle" font-weight="normal" fill="#111" stroke="#111" stroke-width="0.28">WT</text>
<text x="217.50" y="548.00" font-size="8.8" text-anchor="middle" font-weight="normal" fill="#111" stroke="#111" stroke-width="0.28">KD</text>
<path d="M84.80 552.30V555.50H119.00V552.30" fill="none" stroke="#111" stroke-width="1.5"/>
<path d="M122.50 552.30V555.50H155.75V552.30" fill="none" stroke="#111" stroke-width="1.5"/>
<path d="M158.75 552.30V555.50H191.25V552.30" fill="none" stroke="#111" stroke-width="1.5"/>
<path d="M195.00 552.30V555.50H224.50V552.30" fill="none" stroke="#111" stroke-width="1.5"/>
<text x="103.10" y="566.30" font-size="8.8" text-anchor="middle" font-weight="normal" fill="#111" stroke="#111" stroke-width="0.28">HD</text>
<text x="140.80" y="566.30" font-size="8.8" text-anchor="middle" font-weight="normal" fill="#111" stroke="#111" stroke-width="0.28">CML</text>
<text x="176.60" y="566.30" font-size="8.8" text-anchor="middle" font-weight="normal" fill="#111" stroke="#111" stroke-width="0.28">HD</text>
<text x="211.50" y="566.30" font-size="8.8" text-anchor="middle" font-weight="normal" fill="#111" stroke="#111" stroke-width="0.28">CML</text>
<path d="M83.80 570.60V573.80H156.20V570.60" fill="none" stroke="#111" stroke-width="1.5"/>
<path d="M160.00 570.60V573.80H225.00V570.60" fill="none" stroke="#111" stroke-width="1.5"/>
<text x="116.50" y="586.70" font-size="9" text-anchor="middle" font-weight="normal" fill="#111" stroke="#111" stroke-width="0.28">generation with</text>
<text x="116.90" y="596.30" font-size="9" text-anchor="middle" font-weight="normal" fill="#111" stroke="#111" stroke-width="0.28">Bcr-Abl WT<tspan font-size="62%" dy="-0.5em">+</tspan><tspan dy="0.31em"> </tspan>DCs</text>
<text x="193.80" y="586.70" font-size="9" text-anchor="middle" font-weight="normal" fill="#111" stroke="#111" stroke-width="0.28">generation with</text>
<text x="194.40" y="596.30" font-size="9" text-anchor="middle" font-weight="normal" fill="#111" stroke="#111" stroke-width="0.28">Bcr-Abl KD<tspan font-size="62%" dy="-0.5em">+</tspan><tspan dy="0.31em"> </tspan>DCs</text>
</svg>
</body></html>
